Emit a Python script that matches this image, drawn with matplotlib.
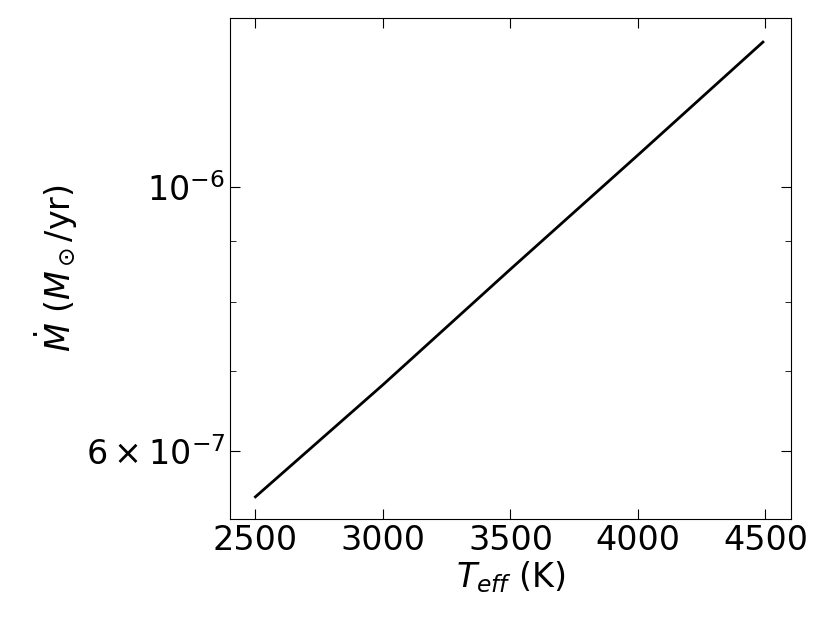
import matplotlib
matplotlib.use("Agg")
import matplotlib.pyplot as plt
from matplotlib.ticker import NullFormatter

# values
teff = [2500, 3000, 3500, 4000, 4490]
mdot = [5.49e-7, 6.82e-7, 8.53e-7, 1.064e-6, 1.324e-6]

plt.rcParams['font.size'] = 24
plt.rcParams['mathtext.fontset'] = 'dejavusans'

fig = plt.figure(figsize=(8.3, 6.23), dpi=100)
ax = fig.add_axes([0.277, 0.167, 0.676, 0.804])
ax.plot(teff, mdot, color='black', lw=2)
ax.set_yscale('log')
ax.set_xlim(2400, 4600)
ax.set_ylim(5.26e-7, 1.387e-6)

ax.set_yticks([6e-7, 1e-6])
ax.set_yticklabels([r'$6\times10^{-7}$', r'$10^{-6}$'])
ax.set_yticks([7e-7, 8e-7, 9e-7], minor=True)
ax.yaxis.set_minor_formatter(NullFormatter())
ax.set_xticks([2500, 3000, 3500, 4000, 4500])

ax.tick_params(which='both', direction='in', top=True, right=True)
ax.tick_params(which='major', length=7)
ax.tick_params(which='minor', length=4)

ax.set_xlabel(r'$T_{eff}$ (K)', labelpad=2)
ax.set_ylabel(r'$\dot{M}$ ($M_\odot$/yr)')

fig.savefig('out.png', dpi=100)
